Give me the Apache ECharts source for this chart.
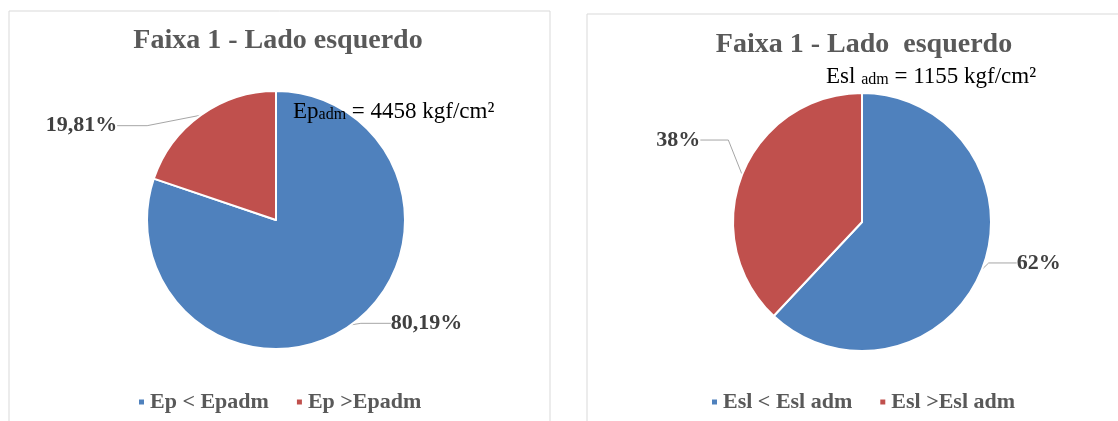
<!DOCTYPE html>
<html>
<head>
<meta charset="utf-8">
<script src="https://cdn.jsdelivr.net/npm/echarts@6/dist/echarts.min.js"></script>
<style>
  html, body { margin: 0; padding: 0; background: #fff; }
  #chart { width: 1118px; height: 421px; }
</style>
</head>
<body>
<div id="chart"></div>
<script>
// dados dos dois gráficos
const leftNames = ['Ep < Epadm', 'Ep >Epadm'];
const leftValues = [80.19, 19.81];
const leftLabels = ['80,19%', '19,81%'];

const rightNames = ['Esl < Esl adm', 'Esl >Esl adm'];
const rightValues = [62, 38];
const rightLabels = ['62%', '38%'];

const colors = ['#4F81BD', '#C0504D'];
const serif = 'Liberation Serif, Times New Roman, serif';

const toData = (names, values) => names.map((n, i) => ({
  name: n,
  value: values[i],
  itemStyle: { color: colors[i] }
}));

// lineLen = [length, length2], shift = deslocamento [dx, dy] de cada rótulo
const pieSeries = (center, names, values, labels, lineLen, shift) => ({
  type: 'pie',
  center: center,
  radius: 129,
  startAngle: 90,
  clockwise: true,
  animation: false,
  itemStyle: { borderColor: '#fff', borderWidth: 2 },
  label: {
    show: true,
    position: 'outside',
    formatter: p => labels[p.dataIndex],
    fontFamily: serif,
    fontWeight: 'bold',
    fontSize: 22,
    color: '#404040',
    padding: [0, 3]
  },
  labelLine: {
    show: true,
    length: lineLen[0],
    length2: lineLen[1],
    lineStyle: { color: '#a6a6a6', width: 1 }
  },
  // x/y absolutos (a partir da posição padrão) para que a linha seja refeita
  labelLayout: p => ({
    x: p.labelRect.x + shift[p.dataIndex][0],
    y: p.labelRect.y + shift[p.dataIndex][1],
    align: 'left',
    verticalAlign: 'top'
  }),
  emphasis: { disabled: true },
  data: toData(names, values)
});

const titleStyle = { fontFamily: serif, fontWeight: 'bold', fontSize: 28, color: '#595959' };
const legendStyle = { fontFamily: serif, fontWeight: 'bold', fontSize: 22, color: '#595959' };
const noteRich = {
  a: { fontFamily: serif, fontSize: 23, fill: '#000' },
  b: { fontFamily: serif, fontSize: 16, fill: '#000', verticalAlign: 'bottom', padding: [6, 0, 0, 0] }
};

const myChart = echarts.init(document.getElementById('chart'));
myChart.setOption({
  backgroundColor: '#fff',
  title: [
    { text: 'Faixa 1 - Lado esquerdo', left: 273, top: 22, textAlign: 'center', textStyle: titleStyle },
    { text: 'Faixa 1 - Lado  esquerdo', left: 859, top: 26, textAlign: 'center', textStyle: titleStyle }
  ],
  legend: [
    {
      data: leftNames, left: 132, top: 386,
      icon: 'rect', itemWidth: 7, itemHeight: 7, itemGap: 26,
      textStyle: legendStyle
    },
    {
      data: rightNames, left: 705, top: 386,
      icon: 'rect', itemWidth: 7, itemHeight: 7, itemGap: 26,
      textStyle: legendStyle
    }
  ],
  graphic: [
    { type: 'rect', shape: { x: 9, y: 11, width: 541, height: 430 },
      style: { fill: 'none', stroke: '#d9d9d9', lineWidth: 1 }, z: -1 },
    { type: 'rect', shape: { x: 587, y: 14, width: 560, height: 430 },
      style: { fill: 'none', stroke: '#d9d9d9', lineWidth: 1 }, z: -1 },
    { type: 'text', left: 293, top: 100, z: 10,
      style: { text: '{a|Ep}{b|adm}{a| = 4458 kgf/cm²}', rich: noteRich } },
    { type: 'text', left: 826, top: 65, z: 10,
      style: { text: '{a|Esl }{b|adm}{a| = 1155 kgf/cm²}', rich: noteRich } }
  ],
  series: [
    pieSeries([276, 220], leftNames, leftValues, leftLabels, [8, 30], [[-6, -8], [-44, 17]]),
    pieSeries([862, 222], rightNames, rightValues, rightLabels, [4, 28], [[-8, -8], [-5, -33]])
  ]
});
</script>
</body>
</html>
